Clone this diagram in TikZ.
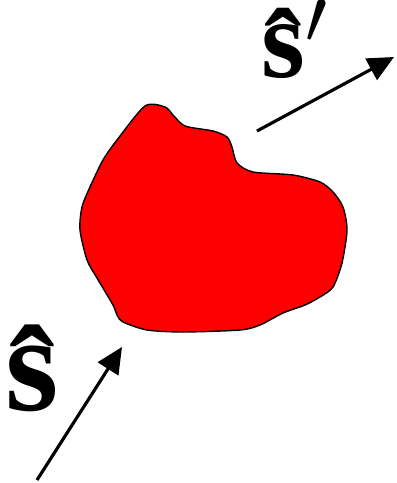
\RequirePackage{fix-cm}
\documentclass[tikz,border=0pt]{standalone}
\usepackage{amsmath,amssymb}
\usepackage{fontspec}
\setmainfont{Liberation Serif}
\usepackage{xcolor}
\usetikzlibrary{arrows.meta}
\newcommand{\shat}{\ooalign{s\cr\hidewidth\raisebox{-0.085em}{\char"02C6}\hidewidth\cr}}

\begin{document}
\begin{tikzpicture}[
    x=0.02cm, y=-0.02cm,
    blob/.style={draw, line width=0.8pt, fill=red},
    arrow/.style={-{Triangle[length=0.52cm, width=0.48cm]}, line width=1.8pt},
    vec/.style={inner sep=0pt, font=\fontsize{78}{90}\selectfont\bfseries}
]
\useasboundingbox (0,0) rectangle (396,483);

% scatterer
\draw[blob] plot[smooth cycle, tension=0.45] coordinates {
    (145,106) (165,107) (173,115) (185,126) (213,131) (227,137)
    (232,147) (237,163) (253,172) (293,175) (320,182) (333,192)
    (343,207) (347,230) (342,263) (333,287) (320,297) (305,305)
    (283,313) (260,325) (240,330) (183,332) (147,330) (123,322)
    (117,315) (113,305) (97,278) (87,260) (80,230) (82,207)
    (90,187) (103,160) (117,140)};

% incoming and outgoing directions
\coordinate (inA) at (37,480);
\coordinate (inB) at (122,347);
\coordinate (outA) at (257,131);
\coordinate (outB) at (394,57);
\draw[arrow] (inA) -- (inB);
\draw[arrow] (outA) -- (outB);

\node[vec, anchor=base] (s) at (32.5,410) {\shat};
\node[vec, anchor=base west, font=\fontsize{64}{76}\selectfont\bfseries] (sp) at (261,78) {\shat\raisebox{-0.06em}{$'$}};
\end{tikzpicture}
\end{document}
